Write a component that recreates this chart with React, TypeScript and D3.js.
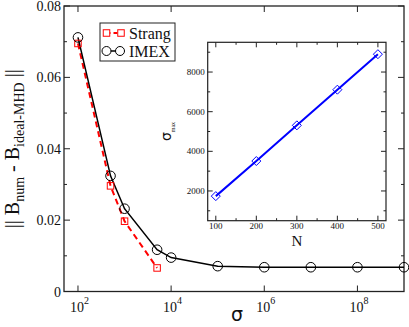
import React from "react";
import * as d3 from "d3";

const sigmaImex = [1e2, 5e2, 1e3, 5e3, 1e4, 1e5, 1e6, 1e7, 1e8, 1e9];
const errImex = [0.0712, 0.0324, 0.0232, 0.0117, 0.0095, 0.0071, 0.0068, 0.0068, 0.0068, 0.0068];
const sigmaStrang = [1e2, 5e2, 1e3, 5e3];
const errStrang = [0.0695, 0.0296, 0.0197, 0.0066];
const yTicks = [0, 0.02, 0.04, 0.06, 0.08];
const yTickLabels = ["0", "0.02", "0.04", "0.06", "0.08"];
const xTickExps = [2, 4, 6, 8];

const insetN = [100, 200, 300, 400, 500];
const insetSigmaMax = [1740, 3510, 5310, 7110, 8900];
const insetXTicks = [100, 200, 300, 400, 500];
const insetYTicks = [2000, 4000, 6000, 8000];

const FONT = "'Liberation Serif', 'Times New Roman', serif";

export default function App() {
  const W = 409, H = 327;
  const L = 64, R = 404, T = 6, B = 291.5;
  const x = d3.scaleLog().domain([Math.pow(10, 1.7), 1e9]).range([L, R]);
  const y = d3.scaleLinear().domain([0, 0.08]).range([B, T]);

  const iL = 207.7, iR = 386, iT = 42.3, iB = 220.7;
  const ix = d3.scaleLinear().domain([80, 520]).range([iL, iR]);
  const iy = d3.scaleLinear().domain([500, 9500]).range([iB, iT]);

  const lineImex = d3.line<number>().x((_, i) => x(sigmaImex[i])).y((d) => y(d))(errImex) || "";
  const lineStrang = d3.line<number>().x((_, i) => x(sigmaStrang[i])).y((d) => y(d))(errStrang) || "";
  const lineInset = d3.line<number>().x((_, i) => ix(insetN[i])).y((d) => iy(d))(insetSigmaMax) || "";

  const yMinor = d3.range(0.01, 0.08, 0.02);
  const ixMinor = [150, 250, 350, 450];
  const iyMinor = [1000, 3000, 5000, 7000, 9000];

  const sq = 6.5;
  const dia = 4.5;

  return (
    <svg width={W} height={H} style={{ position: "absolute", left: 0, top: 0, background: "#fff" }}>
      <rect x={0} y={0} width={W} height={H} fill="#fff" />
      {/* main frame ticks */}
      <g stroke="#222" strokeWidth={1}>
        {yTicks.map((t) => (
          <g key={"yt" + t}>
            <line x1={L} x2={L + 6} y1={y(t)} y2={y(t)} />
            <line x1={R} x2={R - 6} y1={y(t)} y2={y(t)} />
          </g>
        ))}
        {yMinor.map((t) => (
          <g key={"ym" + t}>
            <line x1={L} x2={L + 3} y1={y(t)} y2={y(t)} />
            <line x1={R} x2={R - 3} y1={y(t)} y2={y(t)} />
          </g>
        ))}
        {xTickExps.map((e) => (
          <g key={"xt" + e}>
            <line x1={x(Math.pow(10, e))} x2={x(Math.pow(10, e))} y1={B} y2={B - 6} />
            <line x1={x(Math.pow(10, e))} x2={x(Math.pow(10, e))} y1={T} y2={T + 6} />
          </g>
        ))}
      </g>
      <rect x={L} y={T} width={R - L} height={B - T} fill="none" stroke="#222" strokeWidth={1.3} />

      {/* main tick labels */}
      <g fontFamily={FONT} fontSize={14} fill="#111">
        {yTicks.map((t, i) => (
          <text key={"yl" + t} x={L - 3} y={y(t) + 5} textAnchor="end">{yTickLabels[i]}</text>
        ))}
        {xTickExps.map((e) => (
          <text key={"xl" + e} x={x(Math.pow(10, e)) - 8} y={312}>
            10<tspan fontSize={10} dy={-8}>{e}</tspan>
          </text>
        ))}
      </g>
      <text x={237} y={321} fontFamily="'DejaVu Sans', sans-serif" fontSize={19} textAnchor="middle" fill="#111">σ</text>
      <text transform={`translate(19,${(T + B) / 2}) rotate(-90)`} textAnchor="middle" fontFamily={FONT} fontSize={20} fill="#111">
        || B<tspan fontSize={14} dy={5}>num</tspan><tspan dy={-5}> - B</tspan><tspan fontSize={14} dy={5}>ideal-MHD</tspan><tspan dy={-5}> ||</tspan>
      </text>

      {/* main data */}
      <path d={lineStrang} fill="none" stroke="#ff0000" strokeWidth={2} strokeDasharray="6,4" />
      <path d={lineImex} fill="none" stroke="#000" strokeWidth={1.5} />
      {sigmaStrang.map((s, i) => (
        <rect key={"sq" + i} x={x(s) - sq / 2} y={y(errStrang[i]) - sq / 2} width={sq} height={sq} fill="none" stroke="#ff0000" strokeWidth={1} />
      ))}
      {sigmaImex.map((s, i) => (
        <circle key={"c" + i} cx={x(s)} cy={y(errImex[i])} r={4.8} fill="none" stroke="#000" strokeWidth={1} />
      ))}

      {/* legend */}
      <rect x={100} y={23} width={75} height={38} fill="#fff" stroke="#222" strokeWidth={1} />
      <line x1={106.5} x2={121} y1={33} y2={33} stroke="#ff0000" strokeWidth={2} strokeDasharray="4,3" />
      <rect x={106.5 - sq / 2} y={33 - sq / 2} width={sq} height={sq} fill="#fff" stroke="#ff0000" strokeWidth={1} />
      <rect x={121 - sq / 2} y={33 - sq / 2} width={sq} height={sq} fill="#fff" stroke="#ff0000" strokeWidth={1} />
      <line x1={106.5} x2={120} y1={51} y2={51} stroke="#000" strokeWidth={1.5} />
      <circle cx={106.5} cy={51} r={4.5} fill="#fff" stroke="#000" strokeWidth={1} />
      <circle cx={120} cy={51} r={4.5} fill="#fff" stroke="#000" strokeWidth={1} />
      <g fontFamily={FONT} fontSize={16} fill="#111">
        <text x={129} y={38.5}>Strang</text>
        <text x={129} y={57}>IMEX</text>
      </g>

      {/* inset */}
      <rect x={iL} y={iT} width={iR - iL} height={iB - iT} fill="#fff" stroke="none" />
      <g stroke="#222" strokeWidth={1}>
        {insetXTicks.map((t) => (
          <g key={"ixt" + t}>
            <line x1={ix(t)} x2={ix(t)} y1={iB} y2={iB - 5} />
            <line x1={ix(t)} x2={ix(t)} y1={iT} y2={iT + 5} />
          </g>
        ))}
        {ixMinor.map((t) => (
          <g key={"ixm" + t}>
            <line x1={ix(t)} x2={ix(t)} y1={iB} y2={iB - 2.5} />
            <line x1={ix(t)} x2={ix(t)} y1={iT} y2={iT + 2.5} />
          </g>
        ))}
        {insetYTicks.map((t) => (
          <g key={"iyt" + t}>
            <line x1={iL} x2={iL + 5} y1={iy(t)} y2={iy(t)} />
            <line x1={iR} x2={iR - 5} y1={iy(t)} y2={iy(t)} />
          </g>
        ))}
        {iyMinor.map((t) => (
          <g key={"iym" + t}>
            <line x1={iL} x2={iL + 2.5} y1={iy(t)} y2={iy(t)} />
            <line x1={iR} x2={iR - 2.5} y1={iy(t)} y2={iy(t)} />
          </g>
        ))}
      </g>
      <rect x={iL} y={iT} width={iR - iL} height={iB - iT} fill="none" stroke="#222" strokeWidth={1.2} />
      <g fontFamily={FONT} fontSize={9} fill="#111">
        {insetXTicks.map((t) => (
          <text key={"ixl" + t} x={ix(t)} y={229} textAnchor="middle">{t}</text>
        ))}
        {insetYTicks.map((t) => (
          <text key={"iyl" + t} x={iL - 3} y={iy(t) + 3} textAnchor="end">{t}</text>
        ))}
      </g>
      <text x={297} y={245.5} fontFamily={FONT} fontSize={15} textAnchor="middle" fill="#111">N</text>
      <text transform={`translate(171,${(iT + iB) / 2}) rotate(-90)`} textAnchor="middle" fontFamily="'DejaVu Sans', sans-serif" fontSize={14} fill="#111">
        σ<tspan fontFamily={FONT} fontSize={6} dy={4}>max</tspan>
      </text>
      <path d={lineInset} fill="none" stroke="#0000ff" strokeWidth={2} />
      {insetN.map((n, i) => (
        <path key={"d" + i} d={`M${ix(n)},${iy(insetSigmaMax[i]) - dia}L${ix(n) + dia},${iy(insetSigmaMax[i])}L${ix(n)},${iy(insetSigmaMax[i]) + dia}L${ix(n) - dia},${iy(insetSigmaMax[i])}Z`} fill="none" stroke="#0000ff" strokeWidth={1} />
      ))}
    </svg>
  );
}
